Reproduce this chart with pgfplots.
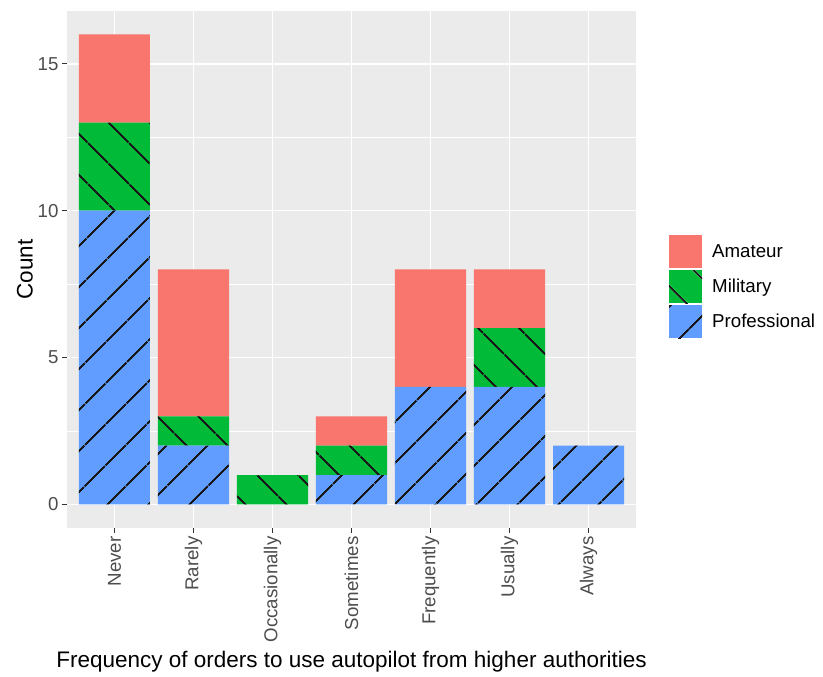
\documentclass[border=0pt]{standalone}
\usepackage{pgfplots}
\pgfplotsset{compat=1.18}
\usetikzlibrary{patterns.meta}
\usepackage{fontspec}
\setmainfont{Liberation Sans}
\definecolor{amat}{HTML}{F8766D}
\definecolor{mil}{HTML}{00BA38}
\definecolor{prof}{HTML}{619CFF}
\definecolor{panel}{HTML}{EBEBEB}
\definecolor{txt}{HTML}{4D4D4D}
\definecolor{tck}{HTML}{333333}
\newcommand\tickfont{\fontsize{18.7}{21}\selectfont}
\newcommand\titlefont{\fontsize{22.5}{26}\selectfont}

\begin{document}
\begin{tikzpicture}
\useasboundingbox (-67pt,-149pt) rectangle (756pt,528pt);
\begin{axis}[
    scale only axis, width=569pt, height=517pt,
    ybar stacked, bar width=0.9,
    xmin=0.4, xmax=7.6, ymin=-0.8, ymax=16.8,
    xtick={1,...,7},
    xticklabels={Never,Rarely,Occasionally,Sometimes,Frequently,Usually,Always},
    ytick={0,5,10,15}, minor ytick={2.5,7.5,12.5},
    axis background/.style={fill=panel},
    axis line style={draw=none},
    grid=both,
    major grid style={white, line width=1.4pt},
    minor grid style={white, line width=0.7pt},
    tick align=outside, tick pos=left,
    major tick length=5pt, minor tick length=0pt,
    major tick style={tck, line width=1pt},
    /pgf/number format/assume math mode=true,
    ticklabel style={font=\tickfont, text=txt},
    xticklabel style={rotate=90, anchor=east},
    xlabel={Frequency of orders to use autopilot from higher authorities},
    ylabel={Count},
    every axis x label/.style={at={(axis description cs:0.5,-0.259)}, anchor=center, font=\titlefont},
    every axis y label/.style={at={(axis description cs:-0.074,0.5)}, rotate=90, anchor=center, font=\titlefont},
    reverse legend,
    legend image code/.code={\path[#1] (0pt,-16.5pt) rectangle (33pt,16.5pt);},
    legend style={at={(axis description cs:1.058,0.467)}, anchor=west, draw=none, fill=none,
        font=\tickfont, row sep=2pt, inner sep=0pt,
        nodes={inner sep=2pt},
        /tikz/every odd column/.append style={column sep=8pt}},
    legend cell align=left,
]
\addplot[draw=none, fill=prof,
    postaction={pattern={Lines[angle=45,distance=30pt,line width=2pt]}, pattern color=black!90}]
    coordinates {(1,10) (2,2) (3,0) (4,1) (5,4) (6,4) (7,2)};
\addplot[draw=none, fill=mil,
    postaction={pattern={Lines[angle=-45,distance=30pt,line width=2pt]}, pattern color=black!90}]
    coordinates {(1,3) (2,1) (3,1) (4,1) (5,0) (6,2) (7,0)};
\addplot[draw=none, fill=amat]
    coordinates {(1,3) (2,5) (3,0) (4,1) (5,4) (6,2) (7,0)};
\legend{Professional,Military,Amateur}
\end{axis}
\end{tikzpicture}
\end{document}
